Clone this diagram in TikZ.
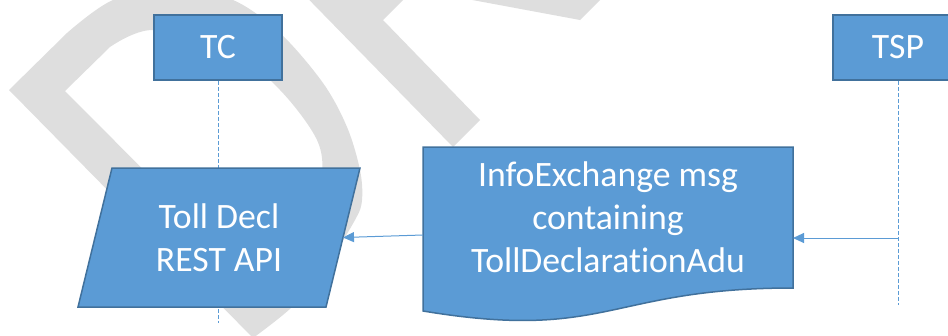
\documentclass[tikz,border=0pt]{standalone}
\usepackage{fontspec}
\setmainfont{Carlito}[Ligatures=NoCommon]
\usetikzlibrary{arrows.meta}
\definecolor{boxblue}{HTML}{5B9BD5}
\definecolor{edgeblue}{HTML}{41719C}
\definecolor{wmgray}{RGB}{222,222,222}
\tikzset{
  bigtext/.style={font=\fontsize{35.7}{43}\selectfont, text=white, align=center, inner sep=0pt},
  actor/.style={draw=edgeblue, fill=boxblue, line width=1.5pt, minimum width=128pt, minimum height=65pt, bigtext},
  shapebox/.style={draw=edgeblue, fill=boxblue, line width=1.5pt},
  lifeline/.style={draw=boxblue, line width=1pt, dash pattern=on 4pt off 2pt},
  msg/.style={draw=boxblue, line width=1pt, -{Triangle[length=11pt,width=10pt]}},
  wm/.style={fill=wmgray}
}
\begin{document}
\begin{tikzpicture}[x=1pt,y=-1pt]
\useasboundingbox (0,0) rectangle (948,335);
\clip (0,0) rectangle (948,335);
% watermark (partial letters)
\fill[wm, even odd rule]
 (253,338) -- (9,90) -- plot[smooth, tension=0.55] coordinates {(67,33) (113,0) (175,-12) (233,0) (280,33) (323,83) (347,127) (360,170) (362,200) (355,220) (325,268) (292,307) (253,338)} -- cycle
 (65,91) -- plot[smooth, tension=0.55] coordinates {(110,47) (153,30) (230,50) (280,90) (317,140) (322,180) (312,235) (265,292)} -- cycle;
\fill[wm] (280,-30) -- (453,147) -- (480,120) -- (383,20) -- (433,-30) -- cycle;
\fill[wm] (440,-6) -- (580,20) -- (630,-30) -- (440,-30) -- cycle;
% actors and lifelines
\node[actor] (tc) at (218,47.5) {TC};
\node[actor, minimum width=130pt] (tsp) at (898,47.5) {TSP};
\coordinate (tcend) at (218,323);
\coordinate (tspend) at (898,305);
\draw[lifeline] (tc.south) -- (tcend);
\draw[lifeline] (tsp.south) -- (tspend);
% API parallelogram
\coordinate (pnw) at (112,168);
\coordinate (pne) at (360,168);
\coordinate (pse) at (326,307);
\coordinate (psw) at (78,307);
\path[shapebox] (pnw) -- (pne) -- (pse) -- (psw) -- cycle;
\coordinate (apiR) at (343,237.5);
\node[bigtext] (api) at (219,237.5) {Toll Decl\\REST API};
% document shape
\coordinate (dnw) at (423,147);
\coordinate (dne) at (793,147);
\coordinate (dse) at (793,288);
\coordinate (dsw) at (423,311);
\path[shapebox] (dnw) -- (dne) -- (dse) .. controls (608,288) and (608,341.7) .. (dsw) -- cycle;
\node[bigtext] (doc) at (608,217.5) {InfoExchange msg\\containing\\TollDeclarationAdu};
% messages
\coordinate (m1) at (898,238);
\draw[msg] (m1) -- (m1 -| dne);
\coordinate (m2) at (423,235);
\draw[msg] (m2) -- (apiR);
\end{tikzpicture}
\end{document}
